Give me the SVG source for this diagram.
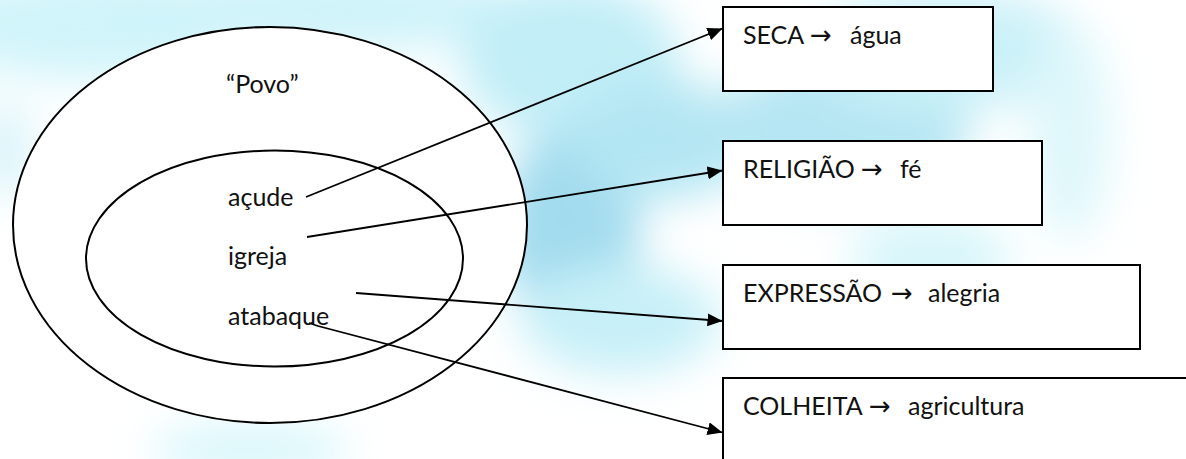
<svg xmlns="http://www.w3.org/2000/svg" width="1186" height="459" viewBox="0 0 1186 459">
<style>
.lbl{font-family:Lato,"Open Sans","Liberation Sans",sans-serif;font-size:25px;fill:#111;}
.arr{font-family:"DejaVu Sans",sans-serif;font-size:26px;}
.shape{fill:#fff;stroke:#000;stroke-width:2;}
.conn{fill:none;stroke:#000;stroke-width:1.8;marker-end:url(#ah);}
</style>
<defs>
<filter id="blur" x="-50%" y="-50%" width="200%" height="200%"><feGaussianBlur stdDeviation="22"/></filter>
<marker id="ah" viewBox="0 0 15 13" refX="15" refY="6.5" markerWidth="15" markerHeight="13" markerUnits="userSpaceOnUse" orient="auto"><path d="M0,0 L15,6.5 L0,13 Z" fill="#000"/></marker>
</defs>
<rect x="0" y="0" width="1186" height="459" fill="#fff"/>
<g id="background" filter="url(#blur)">
<ellipse cx="90" cy="25" rx="150" ry="55" fill="#d0f4fa"/>
<ellipse cx="330" cy="10" rx="210" ry="40" fill="#cdf3f9"/>
<ellipse cx="570" cy="60" rx="110" ry="80" fill="#c2eef7"/>
<ellipse cx="570" cy="230" rx="70" ry="100" fill="#a2dbee"/>
<ellipse cx="660" cy="140" rx="90" ry="60" fill="#b3e6f3"/>
<ellipse cx="620" cy="320" rx="100" ry="55" fill="#c8f0f8"/>
<ellipse cx="840" cy="130" rx="130" ry="70" fill="#b6e6f3"/>
<ellipse cx="950" cy="50" rx="140" ry="60" fill="#cbf1f8"/>
<ellipse cx="930" cy="260" rx="80" ry="45" fill="#d8f6fa"/>
<ellipse cx="1070" cy="130" rx="40" ry="110" fill="#def7fb"/>
<ellipse cx="250" cy="450" rx="100" ry="25" fill="#d6f6fb"/>
<ellipse cx="5" cy="150" rx="25" ry="50" fill="#d6f3f9"/>
</g>
<g id="outer">
<ellipse class="shape" cx="270" cy="225" rx="257" ry="198"/>
<text class="lbl" x="226" y="93">“Povo”</text>
</g>
<g id="inner">
<ellipse class="shape" cx="274.5" cy="258.5" rx="188.5" ry="108"/>
<text class="lbl" x="228" y="206">açude</text>
<text class="lbl" x="228" y="265">igreja</text>
<text class="lbl" x="228" y="325">atabaque</text>
</g>
<g id="box-seca">
<rect class="shape" x="723" y="7" width="270" height="84"/>
<text class="lbl" x="743" y="44">SECA <tspan class="arr" x="810">→</tspan> <tspan x="850">água</tspan></text>
</g>
<g id="box-religiao">
<rect class="shape" x="723" y="141" width="319" height="84"/>
<text class="lbl" x="743" y="178">RELIGIÃO <tspan class="arr" x="861">→</tspan> <tspan x="900">fé</tspan></text>
</g>
<g id="box-expressao">
<rect class="shape" x="723" y="265" width="417" height="84"/>
<text class="lbl" x="743" y="302">EXPRESSÃO <tspan class="arr" x="891">→</tspan> <tspan x="928">alegria</tspan></text>
</g>
<g id="box-colheita">
<rect class="shape" x="723" y="378" width="480" height="100"/>
<text class="lbl" x="743" y="415">COLHEITA <tspan class="arr" x="869">→</tspan> <tspan x="908">agricultura</tspan></text>
</g>
<g id="connectors">
<line class="conn" x1="306" y1="197" x2="722.5" y2="28.5"/>
<line class="conn" x1="307" y1="237" x2="722.5" y2="170.5"/>
<line class="conn" x1="356" y1="293" x2="722.5" y2="321"/>
<path class="conn" d="M309,323 L318,326 L722.5,432.5"/>
</g>
</svg>
